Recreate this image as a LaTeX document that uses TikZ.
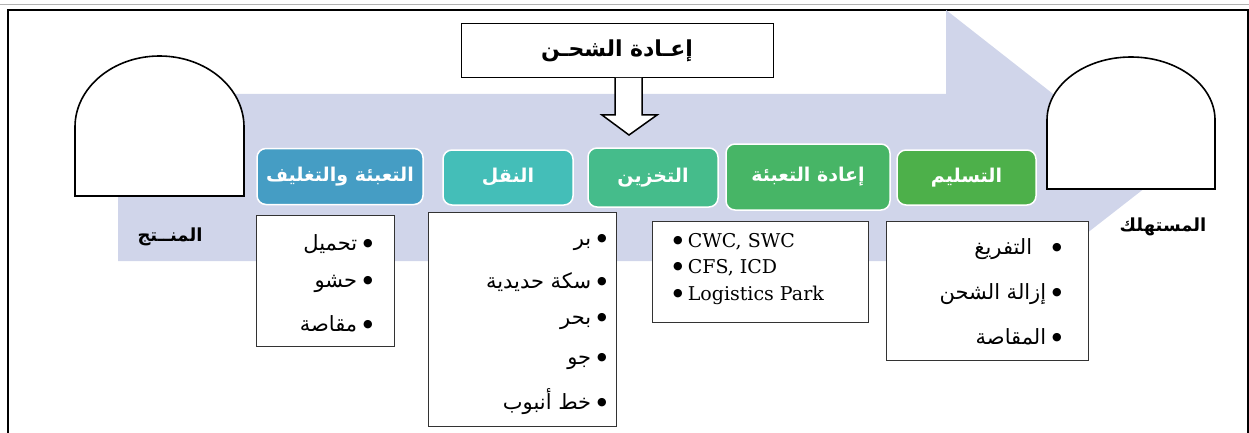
\documentclass[tikz,border=0pt]{standalone}
\usepackage{fontspec}
\setmainfont{DejaVu Serif}
\newfontfamily\arabicfont[Script=Arabic]{DejaVu Sans}
\TeXXeTstate=1
\usetikzlibrary{positioning}
\definecolor{flowbg}{RGB}{208,213,234}
\definecolor{packcol}{RGB}{69,157,196}
\definecolor{transcol}{RGB}{68,190,184}
\definecolor{storecol}{RGB}{69,188,139}
\definecolor{repackcol}{RGB}{71,181,102}
\definecolor{delivcol}{RGB}{77,176,74}
\newcommand{\listdot}{\raisebox{4pt}{\arabicfont\fontsize{11}{11}\selectfont ●}}
\begin{document}
\begin{tikzpicture}[x = 1pt, y = -1pt,
    stage/.style = {draw = white, line width = 1.5pt, rounded corners = 9pt, text = white, inner sep = 0pt, minimum height = 56pt, font = \arabicfont\bfseries\fontsize{19}{21}\selectfont},
    list box/.style = {draw = black!80, line width = 0.9pt, fill = white, inner sep = 0pt},
    ar item/.style = {anchor = east, inner sep = 0pt, font = \arabicfont\fontsize{21}{23}\selectfont},
    en item/.style = {anchor = west, inner sep = 0pt, font = \fontsize{19}{21}\selectfont},
    dome/.style = {draw, line width = 1.6pt, fill = white}]
                    \useasboundingbox (0, 0) rectangle (1249, 433);
                    \draw [gray!60, line width = 1pt] (0, 5) -- (1249, 5);
                    \draw [line width = 1.4pt] (8, 450) -- (8, 10) -- (1248, 10) -- (1248, 450);

                    \fill [flowbg] (118, 94) -- (946, 94) -- (946, 10) -- (1159, 177) -- (946, 343) -- (946, 261) -- (118, 261) -- cycle;

                    \draw [dome] (75, 196) -- (75, 127) arc [start angle = 180, end angle = 360, x radius = 84.5, y radius = 71] -- (244, 196) -- cycle;
                    \draw [dome] (1047, 189) -- (1047, 120) arc [start angle = 180, end angle = 360, x radius = 84, y radius = 63] -- (1215, 189) -- cycle;
                    \node at (170, 237) [font = \arabicfont\bfseries\fontsize{18}{20}\selectfont] (producer) {\beginR المنــتج\endR};
                    \node at (1163, 227) [font = \arabicfont\bfseries\fontsize{18}{20}\selectfont] (consumer) {\beginR المستهلك\endR};

                    \node at (617, 51) [draw, line width = 1pt, fill = white, minimum width = 312pt, minimum height = 54pt, font = \arabicfont\bfseries\fontsize{22}{24}\selectfont] (reship) {\beginR إعـادة الشحـن\endR};
                    \draw [fill = white, line width = 1.5pt] (615, 78) -- (615, 115) -- (602, 115) -- (629, 135) -- (657, 115) -- (642, 115) -- (642, 78);

                    \node at (340, 176.5) [stage, fill = packcol, minimum width = 166pt] (packing) {\beginR التعبئة والتغليف\endR};
                    \node at (508, 177.5) [stage, fill = transcol, minimum width = 130pt, minimum height = 55pt] (transport) {\beginR النقل\endR};
                    \node at (653, 177.5) [stage, fill = storecol, minimum width = 130pt, minimum height = 59pt] (storage) {\beginR التخزين\endR};
                    \node at (808, 177) [stage, fill = repackcol, minimum width = 164pt, minimum height = 66pt] (repacking) {\beginR إعادة التعبئة\endR};
                    \node at (966.5, 177.5) [stage, fill = delivcol, minimum width = 139pt, minimum height = 55pt] (delivery) {\beginR التسليم\endR};

                    \node at (325, 280.5) [list box, minimum width = 138pt, minimum height = 131pt] (packlist) {};
                    \node at (373, 244) [ar item] (pack1) {\beginR\listdot\hspace{6pt}تحميل\endR};
                    \node at (373, 284) [ar item] (pack2) {\beginR\listdot\hspace{6pt}حشو\endR};
                    \node at (373, 324) [ar item] (pack3) {\beginR\listdot\hspace{6pt}مقاصة\endR};

                    \node at (522, 319) [list box, minimum width = 188pt, minimum height = 214pt] (translist) {};
                    \node at (607, 243) [ar item] (trans1) {\beginR\listdot\hspace{6pt}بر\endR};
                    \node at (607, 282) [ar item] (trans2) {\beginR\listdot\hspace{6pt}سكة حديدية\endR};
                    \node at (607, 322) [ar item] (trans3) {\beginR\listdot\hspace{6pt}بحر\endR};
                    \node at (607, 362) [ar item] (trans4) {\beginR\listdot\hspace{6pt}جو\endR};
                    \node at (607, 402) [ar item] (trans5) {\beginR\listdot\hspace{6pt}خط أنبوب\endR};

                    \node at (760, 271.5) [list box, minimum width = 216pt, minimum height = 101pt] (storelist) {};
                    \node at (673, 242) [en item] (store1) {\listdot\hspace{5pt}CWC, SWC};
                    \node at (673, 268) [en item] (store2) {\listdot\hspace{5pt}CFS, ICD};
                    \node at (673, 295) [en item] (store3) {\listdot\hspace{5pt}Logistics Park};

                    \node at (987, 290.5) [list box, minimum width = 202pt, minimum height = 139pt] (delivlist) {};
                    \node at (1062, 249) [ar item] (deliv1) {\beginR\listdot\hspace{20pt}التفريغ\endR};
                    \node at (1062, 294) [ar item] (deliv2) {\beginR\listdot\hspace{6pt}إزالة الشحن\endR};
                    \node at (1062, 337) [ar item] (deliv3) {\beginR\listdot\hspace{6pt}المقاصة\endR};
                \end{tikzpicture}
\end{document}
